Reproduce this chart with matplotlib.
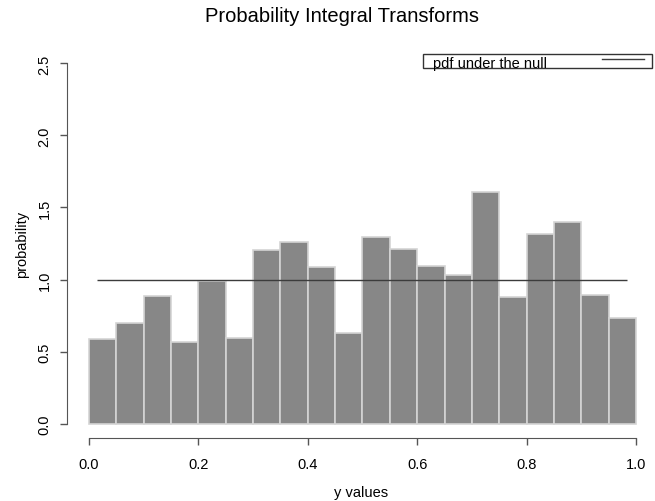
import numpy as np
import matplotlib.pyplot as plt

plt.rcParams["font.family"] = ["Liberation Sans", "DejaVu Sans"]

# PIT histogram: 20 equal bins on [0, 1], density scale
bin_edges = np.linspace(0, 1, 21)
densities = [0.589, 0.700, 0.888, 0.563, 0.992, 0.596, 1.205, 1.262, 1.088, 0.632,
             1.298, 1.214, 1.095, 1.028, 1.606, 0.877, 1.317, 1.400, 0.892, 0.730]
null_pdf = 1.0
null_from, null_to = 0.0146, 0.9835
x_ticks = [0.0, 0.2, 0.4, 0.6, 0.8, 1.0]
y_ticks = [0.0, 0.5, 1.0, 1.5, 2.0, 2.5]

W, H = 655, 502
fig = plt.figure(figsize=(W / 100, H / 100), dpi=100)
# axes box in pixels: left 67, right edge of canvas, top 50, bottom 439
ax = fig.add_axes([67 / W, (H - 439) / H, (W - 67) / W, (439 - 50) / H])
ax.set_xlim(-0.04, (W - 89) / 547)
ax.set_ylim(-0.1, 2.6)

ax.bar(bin_edges[:-1], densities, width=np.diff(bin_edges), align="edge",
       color="#878787", edgecolor="#d4d4d4", linewidth=1.2)
ax.hlines(null_pdf, null_from, null_to, color="#3c3c3c", linewidth=1)

axis_col = "#555555"
for s in ["top", "right"]:
    ax.spines[s].set_visible(False)
ax.spines["left"].set_bounds(0, 2.5)
ax.spines["bottom"].set_bounds(0, 1)
ax.spines["left"].set_color(axis_col)
ax.spines["bottom"].set_color(axis_col)

ax.set_xticks(x_ticks)
ax.set_xticklabels([f"{v:.1f}" for v in x_ticks])
ax.set_yticks(y_ticks)
ax.set_yticklabels([f"{v:.1f}" for v in y_ticks], rotation=90, va="center")
ax.tick_params(direction="out", length=5, width=1, color=axis_col,
               labelsize=10.5, pad=9)
ax.tick_params(axis="y", pad=6)

ax.set_xlabel("y values", fontsize=10.5, labelpad=10)
ax.set_ylabel("probability", fontsize=10.5, labelpad=6)

fig.text(342 / W, 1 - 17 / H, "Probability Integral Transforms",
         ha="center", va="center", fontsize=14.5)

# legend box drawn by hand (figure pixel coordinates)
px = lambda x, y: (x / W, 1 - y / H)
box = plt.Rectangle(px(423, 68.5), (652 - 423) / W, 14 / H, transform=fig.transFigure,
                    fill=False, edgecolor="#333333", linewidth=1)
fig.add_artist(box)
fig.text(*px(433, 64), "pdf under the null", fontsize=10.5, va="center")
fig.add_artist(plt.Line2D([602 / W, 644 / W], [1 - 60 / H] * 2,
                          transform=fig.transFigure, color="#3c3c3c", linewidth=1))

fig.savefig("out.png", dpi=100)
